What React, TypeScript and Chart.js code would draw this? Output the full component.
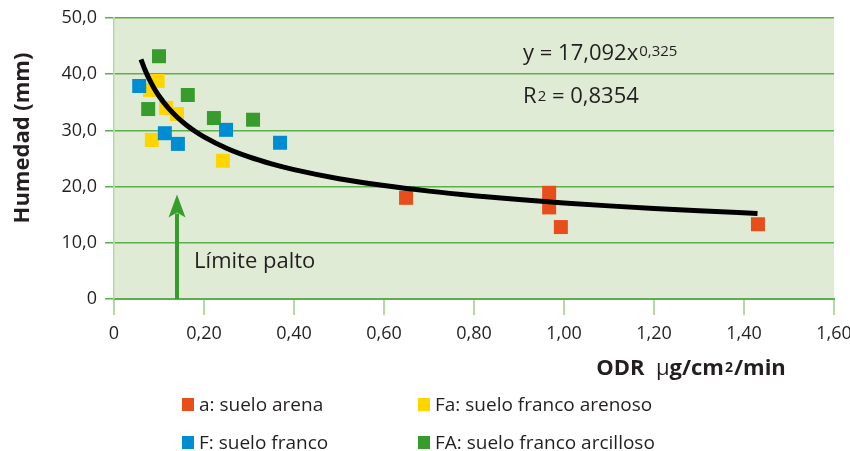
import React, { useEffect, useRef } from "react";
import { Chart, registerables } from "chart.js";

Chart.register(...registerables);

// ---- data ----
const RED_X = [0.649, 0.967, 0.967, 0.993, 1.431];
const RED_Y = [18.0, 18.9, 16.3, 12.8, 13.3];
const YELLOW_X = [0.097, 0.08, 0.116, 0.14, 0.084, 0.242];
const YELLOW_Y = [38.8, 37.2, 34.0, 32.9, 28.3, 24.6];
const BLUE_X = [0.056, 0.113, 0.142, 0.249, 0.369];
const BLUE_Y = [37.9, 29.5, 27.6, 30.1, 27.8];
const GREEN_X = [0.1, 0.076, 0.164, 0.222, 0.309];
const GREEN_Y = [43.2, 33.8, 36.3, 32.2, 31.9];

const TREND_A = 17.092;
const TREND_B = -0.325;
const TREND_X = [0.06, 0.07, 0.08, 0.09, 0.1, 0.12, 0.14, 0.16, 0.18, 0.2, 0.25, 0.3, 0.35, 0.4, 0.5, 0.6, 0.7, 0.8, 0.9, 1.0, 1.1, 1.2, 1.3, 1.43];

const X_TICKS = ["0", "0,20", "0,40", "0,60", "0,80", "1,00", "1,20", "1,40", "1,60"];
const Y_TICKS = ["0", "10,0", "20,0", "30,0", "40,0", "50,0"];

const LEGEND = ["a: suelo arena", "Fa: suelo franco arenoso", "F: suelo franco", "FA: suelo franco arcilloso"];
const EQ_MAIN = "y = 17,092x";
const EQ_EXP = "0,325";
const R2_VALUE = " = 0,8354";
const ARROW_X = 0.14;
const ARROW_TIP = 18.6;
const ARROW_LABEL = "Límite palto";
const Y_TITLE = "Humedad (mm)";
// x title runs: [text, weight, size, raise]
const X_TITLE_RUNS: [string, string, number, number][] = [
  ["ODR  ", "bold", 22, 0],
  ["μ", "normal", 22, 0],
  ["g/cm", "bold", 22, 0],
  ["2", "bold", 14, 3],
  ["/min", "bold", 22, 0],
];

const C_RED = "#E84E1B";
const C_YEL = "#FFD500";
const C_BLUE = "#008CD2";
const C_GREEN = "#389C2C";
const BG = "#E0EBD6";
const GRID = "#5DAE4C";
const LIGHT = "#B6D9A3";
const TXT = "#231F20";
const FONT = "'Open Sans', 'Noto Sans', sans-serif";

const pts = (xs: number[], ys: number[]) => xs.map((x, i) => ({ x, y: ys[i] }));

export default function App() {
  const ref = useRef<HTMLCanvasElement | null>(null);

  useEffect(() => {
    const canvas = ref.current;
    if (!canvas) return;

    const overlay = {
      id: "overlay",
      beforeDraw(chart: any) {
        const { ctx, chartArea } = chart;
        ctx.save();
        ctx.fillStyle = BG;
        ctx.fillRect(chartArea.left, chartArea.top, chartArea.right - chartArea.left, chartArea.bottom - chartArea.top);
        ctx.restore();
      },
      afterDraw(chart: any) {
        const { ctx } = chart;
        const xs = chart.scales.x;
        const ys = chart.scales.y;
        ctx.save();
        // arrow
        const ax = xs.getPixelForValue(ARROW_X);
        const ay0 = ys.getPixelForValue(0);
        const ayt = ys.getPixelForValue(ARROW_TIP);
        const headLen = 23;
        ctx.strokeStyle = C_GREEN;
        ctx.fillStyle = C_GREEN;
        ctx.lineWidth = 4;
        ctx.beginPath();
        ctx.moveTo(ax, ay0);
        ctx.lineTo(ax, ayt + headLen - 4);
        ctx.stroke();
        ctx.beginPath();
        ctx.moveTo(ax, ayt);
        ctx.lineTo(ax - 8.5, ayt + headLen);
        ctx.lineTo(ax, ayt + headLen - 5);
        ctx.lineTo(ax + 8.5, ayt + headLen);
        ctx.closePath();
        ctx.fill();

        ctx.fillStyle = TXT;
        ctx.textBaseline = "alphabetic";
        ctx.textAlign = "left";
        // arrow label
        ctx.font = `22px ${FONT}`;
        ctx.fillText(ARROW_LABEL, xs.getPixelForValue(0.178), ys.getPixelForValue(5.5));

        // equation
        const ex = xs.getPixelForValue(0.909);
        const ey = ys.getPixelForValue(42.5);
        ctx.font = `22px ${FONT}`;
        ctx.fillText(EQ_MAIN, ex, ey);
        const w1 = ctx.measureText(EQ_MAIN).width;
        ctx.font = `15px ${FONT}`;
        ctx.fillText(EQ_EXP, ex + w1 + 1, ey - 4);

        const ry = ys.getPixelForValue(34.9);
        ctx.font = `22px ${FONT}`;
        ctx.fillText("R", ex, ry);
        const wr = ctx.measureText("R").width;
        ctx.font = `15px ${FONT}`;
        ctx.fillText("2", ex + wr + 1, ry - 2);
        const w2 = ctx.measureText("2").width;
        ctx.font = `22px ${FONT}`;
        ctx.fillText(R2_VALUE, ex + wr + w2 + 1, ry);

        // x title (runs)
        let total = 0;
        for (const [t, w, s] of X_TITLE_RUNS) {
          ctx.font = `${w} ${s}px ${FONT}`;
          total += ctx.measureText(t).width + (s < 20 ? 2 : 0);
        }
        let cx = 691 - total / 2;
        for (const [t, w, s, r] of X_TITLE_RUNS) {
          ctx.font = `${w} ${s}px ${FONT}`;
          ctx.fillText(t, cx + (s < 20 ? 1 : 0), 375 - r);
          cx += ctx.measureText(t).width + (s < 20 ? 2 : 0);
        }

        // y title
        ctx.font = `bold 22px ${FONT}`;
        ctx.textAlign = "center";
        ctx.translate(29, 138);
        ctx.rotate(-Math.PI / 2);
        ctx.fillText(Y_TITLE, 0, 0);
        ctx.restore();
      },
    };

    const trend = TREND_X.map((x) => ({ x, y: TREND_A * Math.pow(x, TREND_B) }));

    const sq = { pointStyle: "rect", pointRadius: 9.9, pointHoverRadius: 9.9, borderWidth: 0, showLine: false };

    const chart = new Chart(canvas, {
      type: "scatter",
      data: {
        datasets: [
          { label: "trend", data: trend, showLine: true, borderColor: "#000", borderWidth: 5, pointRadius: 0, tension: 0.4, cubicInterpolationMode: "monotone", order: 0 } as any,
          { label: LEGEND[2], data: pts(BLUE_X, BLUE_Y), backgroundColor: C_BLUE, order: 1, ...sq } as any,
          { label: LEGEND[1], data: pts(YELLOW_X, YELLOW_Y), backgroundColor: C_YEL, order: 2, ...sq } as any,
          { label: LEGEND[3], data: pts(GREEN_X, GREEN_Y), backgroundColor: C_GREEN, order: 3, ...sq } as any,
          { label: LEGEND[0], data: pts(RED_X, RED_Y), backgroundColor: C_RED, order: 4, ...sq } as any,
        ],
      },
      options: {
        animation: false,
        responsive: false,
        events: [],
        layout: { padding: { top: 18, right: 16, bottom: 0, left: 0 } },
        plugins: { legend: { display: false }, tooltip: { enabled: false } },
        scales: {
          x: {
            type: "linear",
            min: 0,
            max: 1.6,
            afterFit(s: any) {
              s.height = 152;
              s.paddingLeft = 0;
              s.paddingRight = 0;
            },
            afterBuildTicks(s: any) {
              s.ticks = X_TICKS.map((_, i) => ({ value: i * 0.2 }));
            },
            ticks: {
              color: TXT,
              font: { family: FONT, size: 18 },
              padding: 8,
              maxRotation: 0,
              callback: (_v: any, i: number) => X_TICKS[i],
            },
            grid: { drawOnChartArea: false, drawTicks: true, tickLength: 16, tickColor: LIGHT, lineWidth: 2 },
            border: { display: true, color: GRID, width: 2 },
          },
          y: {
            type: "linear",
            min: 0,
            max: 50,
            afterFit(s: any) {
              s.width = 114;
              s.paddingTop = 0;
              s.paddingBottom = 0;
            },
            afterBuildTicks(s: any) {
              s.ticks = Y_TICKS.map((_, i) => ({ value: i * 10 }));
            },
            ticks: {
              color: TXT,
              font: { family: FONT, size: 18 },
              padding: 8,
              callback: (_v: any, i: number) => Y_TICKS[i],
            },
            grid: { color: GRID, lineWidth: 1.5, tickLength: 9, tickColor: GRID },
            border: { display: true, color: LIGHT, width: 1.5 },
          },
        },
      } as any,
      plugins: [overlay],
    });
    return () => chart.destroy();
  }, []);

  const items = [
    { c: C_RED, t: LEGEND[0], x: 182, y: 404 },
    { c: C_YEL, t: LEGEND[1], x: 418, y: 404 },
    { c: C_BLUE, t: LEGEND[2], x: 182, y: 442 },
    { c: C_GREEN, t: LEGEND[3], x: 418, y: 442 },
  ];

  return (
    <div style={{ position: "absolute", left: 0, top: 0, width: 850, height: 451, background: "#fff" }}>
      <canvas ref={ref} width={850} height={451} style={{ position: "absolute", left: 0, top: 0 }} />
      {items.map((it) => (
        <div
          key={it.t}
          style={{
            position: "absolute",
            left: it.x,
            top: it.y - 15,
            height: 30,
            display: "flex",
            alignItems: "center",
            fontFamily: FONT,
            fontSize: 19,
            color: TXT,
            whiteSpace: "nowrap",
          }}
        >
          <span style={{ display: "inline-block", width: 12, height: 13, background: it.c, marginRight: 5 }} />
          <span>{it.t}</span>
        </div>
      ))}
    </div>
  );
}
